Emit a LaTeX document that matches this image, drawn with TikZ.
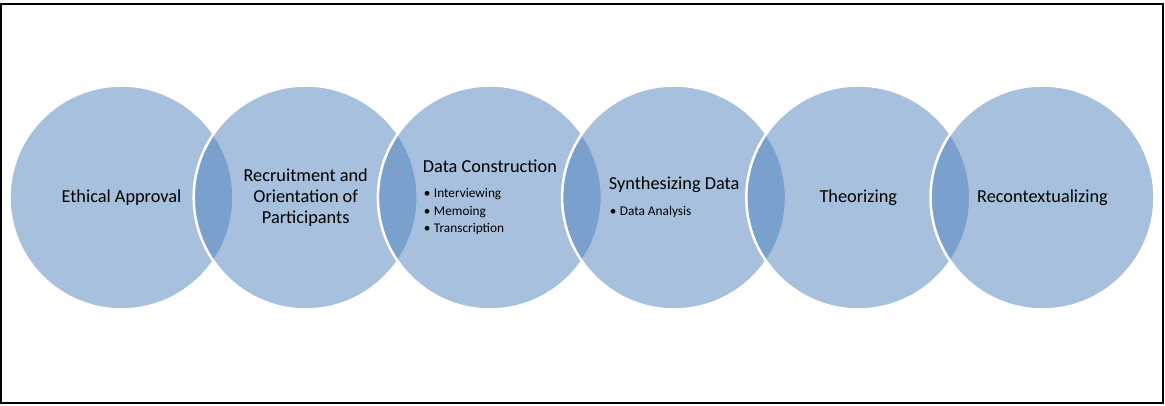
\documentclass[tikz,border=0pt]{standalone}
\usepackage{fontspec}
\setmainfont{Carlito}
\usetikzlibrary{positioning}
\definecolor{vennblue}{RGB}{79,129,189}
\newcommand{\headfont}{\fontsize{18.3}{21}\selectfont}
\newcommand{\itemfont}{\fontsize{13.3}{17.5}\selectfont}
\newcommand{\stageitem}[1]{\hspace*{1pt}\makebox[10pt][l]{\textbullet}#1}
\tikzstyle{every node}=[font=\headfont,text=black]
\tikzstyle{stage}=[circle,minimum size=224pt,inner sep=0pt,outer sep=0pt,
  fill=vennblue,fill opacity=0.5,text opacity=1,draw=white,line width=2.5pt]

\begin{document}
\begin{tikzpicture}[x=1pt,y=1pt]
  \useasboundingbox (0,0) rectangle (1165,405);
  \draw[line width=2pt] (1,2) rectangle (1163,401);
  % overlapping stages, left to right
  \node[stage] (ethics) at (121.5,207.5) {Ethical Approval};
  \node[stage,align=center] (recruit) at (305.7,207.5)
    {Recruitment and\\Orientation of\\Participants};
  \node[stage,align=left,font=\itemfont] (construct) at (489.9,207.5)
    {{\headfont Data Construction}\\[7.5pt]
     \stageitem{Interviewing}\\
     \stageitem{Memoing}\\
     \stageitem{Transcription}};
  \node[stage,align=left,font=\itemfont] (synth) at (674.1,207.5)
    {{\headfont Synthesizing Data}\\[8.5pt]
     \stageitem{Data Analysis}};
  \node[stage] (theory) at (858.3,207.5) {Theorizing};
  \node[stage] (recontext) at (1042.5,207.5) {Recontextualizing};
\end{tikzpicture}
\end{document}
